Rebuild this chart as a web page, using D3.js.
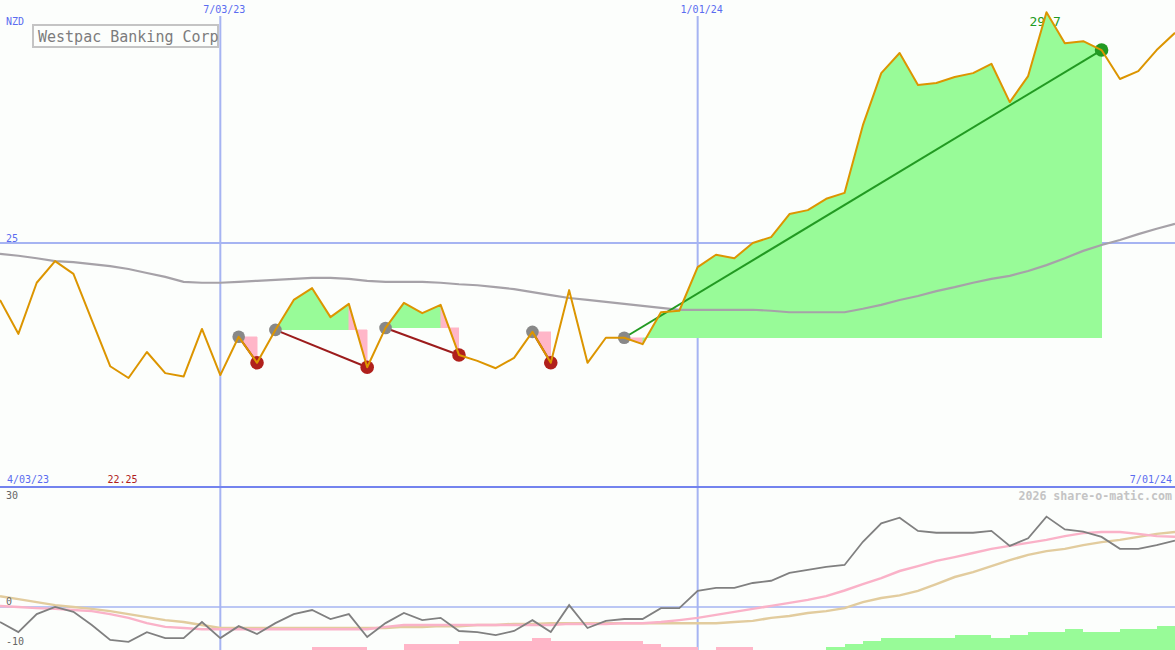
<!DOCTYPE html>
<html><head><meta charset="utf-8">
<script src="https://cdn.jsdelivr.net/npm/d3@7"></script>
<style>
html,body{margin:0;padding:0;background:#fcfefc;overflow:hidden;}
svg{display:block;}
text{font-family:"DejaVu Sans Mono",monospace;}
</style></head><body>
<svg id="c" width="1175" height="650"></svg>
<script>
// ---------- data ----------
const title = "Westpac Banking Corp";
const currency = "NZD";
const dateTickIndex = [12, 38];
const dateTickLabels = ["7/03/23", "1/01/24"];
const rangeStartLabel = "4/03/23";
const rangeEndLabel = "7/01/24";
const credit = "2026 share-o-matic.com";
const priceTicks = [25];
const oscTicks = [30, 0, -10];

const price = [23.84,23.15,24.19,24.63,24.37,23.43,22.49,22.25,22.78,22.35,
               22.28,23.25,22.31,23.09,22.56,23.23,23.84,24.08,23.49,23.76,
               22.47,23.27,23.78,23.57,23.74,22.72,22.60,22.45,22.66,23.19,
               22.56,24.04,22.56,23.07,23.07,22.94,23.59,23.62,24.51,24.76,
               24.69,25.00,25.12,25.59,25.67,25.90,26.02,27.40,28.46,28.87,
               28.22,28.26,28.38,28.46,28.65,27.87,28.40,29.70,29.07,29.11,
               28.93,28.34,28.50,28.93,29.28];

const longMA = [24.78,24.74,24.69,24.63,24.61,24.57,24.53,24.47,24.39,24.31,
                24.21,24.19,24.19,24.21,24.23,24.25,24.27,24.29,24.29,24.27,
                24.23,24.21,24.21,24.21,24.19,24.16,24.14,24.10,24.06,24.00,
                23.94,23.88,23.84,23.80,23.76,23.72,23.68,23.64,23.64,23.64,
                23.64,23.64,23.62,23.59,23.59,23.59,23.59,23.66,23.74,23.84,
                23.92,24.02,24.10,24.19,24.27,24.33,24.43,24.55,24.69,24.84,
                24.96,25.06,25.18,25.29,25.39];

const osc = [-4.0,-6.7,-1.9,0.0,-1.3,-4.8,-8.8,-9.3,-6.7,-8.3,
             -8.3,-4.0,-8.3,-5.1,-7.2,-4.3,-1.9,-0.8,-3.2,-1.9,
             -8.0,-4.3,-1.6,-3.5,-2.9,-6.4,-6.7,-7.5,-6.4,-3.5,
             -6.7,0.5,-5.6,-3.7,-3.2,-3.2,-0.3,-0.3,4.3,5.1,
             5.1,6.4,7.0,9.1,9.9,10.7,11.2,17.4,22.3,23.8,
             20.3,19.8,19.8,19.8,20.3,16.3,18.3,24.1,20.7,20.1,
             18.7,15.5,15.5,16.5,17.7];

const oscFast = [0.3,0.0,-0.3,-0.5,-0.8,-1.1,-1.9,-2.9,-4.3,-5.3,
                 -5.6,-5.9,-5.9,-5.9,-5.9,-5.9,-5.9,-5.9,-5.9,-5.9,
                 -5.9,-5.3,-4.8,-4.8,-4.8,-4.8,-4.8,-4.8,-4.8,-4.8,
                 -4.8,-4.5,-4.5,-4.5,-4.3,-4.3,-4.0,-3.5,-2.9,-2.1,
                 -1.3,-0.5,0.3,1.1,1.9,2.9,4.4,6.1,7.7,9.6,
                 10.9,12.3,13.3,14.4,15.5,16.3,17.1,17.9,18.9,19.7,
                 20.0,20.0,19.5,18.9,18.7];

const oscSlow = [2.9,2.1,1.3,0.5,0.0,-0.5,-1.1,-1.9,-2.7,-3.5,
                 -4.0,-4.8,-5.6,-5.6,-5.6,-5.6,-5.6,-5.6,-5.6,-5.6,
                 -5.6,-5.6,-5.3,-5.3,-5.1,-5.1,-4.8,-4.8,-4.5,-4.5,
                 -4.3,-4.3,-4.3,-4.3,-4.3,-4.3,-4.3,-4.3,-4.3,-4.3,
                 -4.0,-3.7,-2.9,-2.4,-1.6,-1.1,-0.3,1.3,2.4,3.1,
                 4.3,6.1,8.0,9.3,10.9,12.5,13.9,14.9,15.5,16.5,
                 17.3,17.9,18.7,19.5,20.0];

const hist = [0,0,0,0,0,0,0,0,0,0,
              0,0,0,0,0,0,0,-1,-1,-1,
              0,0,-2,-2,-2,-3,-3,-3,-3,-4,
              -3,-3,-3,-3,-3,-2,-1,-1,0,-1,
              -1,0,0,0,0,1,2,3,4,4,
              4,4,5,5,4,5,6,6,7,6,
              6,7,7,8];

const tradeStart = [13, 15, 21, 29, 34];
const tradeEnd   = [14, 20, 25, 30, 60];

// ---------- drawing ----------
const W = 1175, H = 650;
const svg = d3.select("#c");
svg.append("rect").attr("width", W).attr("height", H).attr("fill", "#fcfefc");

const x = d3.scaleLinear().domain([0, price.length - 1]).range([0, W]);
const yP = d3.scaleLinear().domain([20, 30]).range([488.5, -2.5]);
const yO = d3.scaleLinear().domain([-10, 30]).range([644.5, 494.5]);
const yH = d3.scaleLinear().domain([0, 10]).range([650, 620]);

const BLUE = "#5a6cf0", GRID = "#a6b4f2", GREEN = "#98fb98", PINK = "#ffb6c8";

// grid lines
const grid = svg.append("g");
priceTicks.forEach(v => grid.append("line").attr("x1", 0).attr("x2", W)
  .attr("y1", yP(v)).attr("y2", yP(v)).attr("stroke", GRID).attr("stroke-width", 2));
grid.append("line").attr("x1", 0).attr("x2", W).attr("y1", yO(0)).attr("y2", yO(0))
  .attr("stroke", GRID).attr("stroke-width", 1.5);
dateTickIndex.forEach(i => grid.append("line").attr("x1", x(i)).attr("x2", x(i))
  .attr("y1", 16).attr("y2", H).attr("stroke", GRID).attr("stroke-width", 2));
grid.append("line").attr("x1", 0).attr("x2", W).attr("y1", 487).attr("y2", 487)
  .attr("stroke", "#7383ee").attr("stroke-width", 2);

// max label (under fills)
const maxI = d3.maxIndex(price), minI = d3.minIndex(price);
const fmt = d3.format(".2~f");
svg.append("text").attr("x", x(maxI) - 17).attr("y", 26)
  .attr("font-size", 13).attr("fill", "#229a22").text(fmt(price[maxI]));

// trade fills
const fills = svg.append("g").attr("shape-rendering", "crispEdges");
const trades = tradeStart.map((s, k) => ({s, e: tradeEnd[k], level: price[s]}));
trades.forEach(t => {
  for (let k = t.s; k < t.e; k++) {
    const pts = [[x(k), yP(t.level)], [x(k), yP(price[k])], [x(k + 1), yP(price[k + 1])], [x(k + 1), yP(t.level)]];
    const col = price[k + 1] >= t.level ? GREEN : PINK;
    fills.append("path").attr("d", d3.line()(pts) + "Z")
      .attr("fill", col).attr("stroke", col).attr("stroke-width", 0.5);
  }
});

// long moving average
const lineP = d3.line().x((d, i) => x(i)).y(d => yP(d));
svg.append("path").attr("d", lineP(longMA)).attr("fill", "none")
  .attr("stroke", "#a6a2a8").attr("stroke-width", 2.2);

// trade lines and markers
trades.forEach(t => {
  const win = price[t.e] > t.level;
  svg.append("line").attr("x1", x(t.s)).attr("y1", yP(t.level))
    .attr("x2", x(t.e)).attr("y2", yP(price[t.e]))
    .attr("stroke", win ? "#229a22" : "#9c1c1c").attr("stroke-width", 2);
});
trades.forEach(t => {
  const win = price[t.e] > t.level;
  svg.append("circle").attr("cx", x(t.s)).attr("cy", yP(t.level)).attr("r", 6.3).attr("fill", "#888888");
  svg.append("circle").attr("cx", x(t.e)).attr("cy", yP(price[t.e])).attr("r", 6.8)
    .attr("fill", win ? "#229a22" : "#b0201c");
});

// price line
svg.append("path").attr("d", lineP(price)).attr("fill", "none")
  .attr("stroke", "#dc9500").attr("stroke-width", 2).attr("stroke-linejoin", "round");

// lower panel: histogram
const lower = svg.append("g");
hist.forEach((v, i) => {
  if (v === 0) return;
  lower.append("rect").attr("x", x(i)).attr("width", x(i + 1) - x(i))
    .attr("y", yH(Math.abs(v))).attr("height", 650 - yH(Math.abs(v)))
    .attr("fill", v > 0 ? GREEN : PINK).attr("shape-rendering", "crispEdges");
});
const lineO = d3.line().x((d, i) => x(i)).y(d => yO(d));
lower.append("path").attr("d", lineO(oscSlow)).attr("fill", "none").attr("stroke", "#e2cc9e").attr("stroke-width", 2.5);
lower.append("path").attr("d", lineO(oscFast)).attr("fill", "none").attr("stroke", "#fab2c8").attr("stroke-width", 2.5);
lower.append("path").attr("d", lineO(osc)).attr("fill", "none").attr("stroke", "#808080").attr("stroke-width", 1.8);

// texts
const T = svg.append("g").attr("font-size", 10);
T.append("text").attr("x", 6).attr("y", 25).attr("fill", BLUE).text(currency);
dateTickIndex.forEach((i, k) => T.append("text").attr("x", x(i) + 4).attr("y", 13)
  .attr("text-anchor", "middle").attr("fill", BLUE).text(dateTickLabels[k]));
priceTicks.forEach(v => T.append("text").attr("x", 6).attr("y", yP(v) - 1).attr("fill", BLUE).text(v));
T.append("text").attr("x", 7).attr("y", 483).attr("fill", BLUE).text(rangeStartLabel);
T.append("text").attr("x", x(minI) - 6).attr("y", 483).attr("text-anchor", "middle")
  .attr("fill", "#b01c1c").text(fmt(price[minI]));
T.append("text").attr("x", 1172).attr("y", 483).attr("text-anchor", "end").attr("fill", BLUE).text(rangeEndLabel);
oscTicks.forEach(v => T.append("text").attr("x", 6)
  .attr("y", v < 0 ? yO(v) + 0.5 : Math.max(yO(v) - 2, 499)).attr("fill", "#666666").text(v));
svg.append("text").attr("x", 1172).attr("y", 500).attr("text-anchor", "end")
  .attr("font-size", 11.6).attr("font-weight", "bold").attr("fill", "#c4c4c4").text(credit);

// title box
svg.append("rect").attr("x", 33).attr("y", 25).attr("width", 185).attr("height", 22)
  .attr("fill", "#fcfefc").attr("stroke", "#c4c4c4").attr("stroke-width", 2);
svg.append("text").attr("x", 38).attr("y", 42).attr("font-size", 15)
  .attr("fill", "#7c7c7c").text(title);
</script>
</body></html>
